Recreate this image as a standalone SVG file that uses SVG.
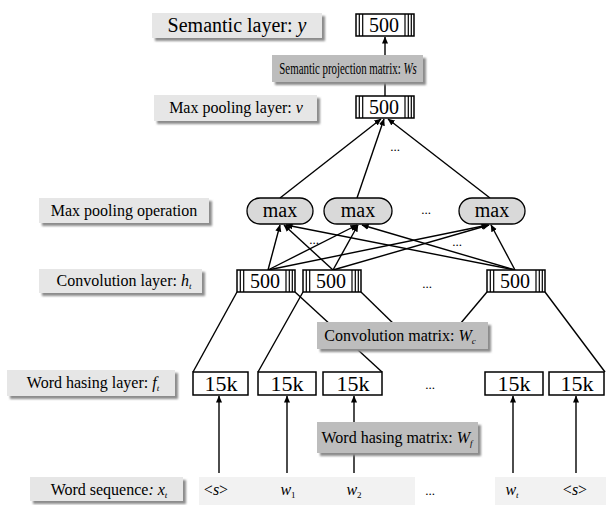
<svg xmlns="http://www.w3.org/2000/svg" xmlns:xlink="http://www.w3.org/1999/xlink" width="606" height="505" viewBox="0 0 606 505">
  <style>
    text { font-family: "Liberation Serif", "Times New Roman", serif; fill: #000; }
    .lbl { font-size: 16px; text-anchor: middle; }
    .big { font-size: 20px; text-anchor: middle; }
    .num { font-size: 20px; text-anchor: middle; }
    .k { font-size: 22px; text-anchor: middle; }
    .dots { font-size: 13px; text-anchor: middle; }
    .it { font-style: italic; }
    .light { fill: #e6e6e6; }
    .dark { fill: #bdbdbd; }
    .shadow { fill: #8c8c8c; filter: url(#blur); }
    .edge { stroke: #000; stroke-width: 1.4; fill: none; }
    .arrow { stroke: #000; stroke-width: 1.4; fill: none; marker-end: url(#head); }
    .frame { fill: #fff; stroke: #000; stroke-width: 1.5; }
    .bar { stroke: #000; stroke-width: 1.2; }
    .pill { fill: #d9d9d9; stroke: #000; stroke-width: 1.3; }
    .strip { fill: #f2f2f2; }
  </style>
  <defs>
    <filter id="blur" x="-10%" y="-30%" width="120%" height="160%">
      <feGaussianBlur stdDeviation="1.2"/>
    </filter>
    <marker id="head" viewBox="0 0 8 8" refX="7.5" refY="4" markerWidth="7" markerHeight="7" markerUnits="userSpaceOnUse" orient="auto">
      <path d="M0,0.5 L8,4 L0,7.5 Z" fill="#000"/>
    </marker>
    <!-- 500-unit vector: framed box with two bars on the left and three on the right -->
    <g id="vec500">
      <rect class="frame" x="0" y="0" width="58" height="22"/>
      <line class="bar" x1="3.3" y1="0" x2="3.3" y2="22"/>
      <line class="bar" x1="6.7" y1="0" x2="6.7" y2="22"/>
      <line class="bar" x1="49" y1="0" x2="49" y2="22"/>
      <line class="bar" x1="52.3" y1="0" x2="52.3" y2="22"/>
      <line class="bar" x1="55.3" y1="0" x2="55.3" y2="22"/>
    </g>
  </defs>

  <rect width="606" height="505" fill="#fff"/>

  <!-- word sequence background strips -->
  <rect class="strip" x="199" y="477" width="216" height="28"/>
  <rect class="strip" x="495" y="477" width="111" height="28"/>

  <!-- connectors -->
  <g id="connectors">
    <!-- word tokens to word hashing vectors -->
    <line class="arrow" x1="219" y1="473" x2="219" y2="396"/>
    <line class="arrow" x1="287" y1="473" x2="287" y2="396"/>
    <line class="arrow" x1="354" y1="473" x2="354" y2="396"/>
    <line class="arrow" x1="513" y1="473" x2="513" y2="396"/>
    <line class="arrow" x1="576" y1="473" x2="576" y2="396"/>

    <!-- convolution windows over word hashing vectors -->
    <line class="edge" x1="237" y1="292" x2="193" y2="372"/>
    <line class="edge" x1="295" y1="292" x2="382" y2="372"/>
    <line class="edge" x1="303" y1="292" x2="258" y2="372"/>
    <line class="edge" x1="361" y1="292" x2="400" y2="330"/>
    <line class="edge" x1="487" y1="292" x2="455" y2="330"/>
    <line class="edge" x1="545" y1="292" x2="605" y2="372"/>

    <!-- convolution vectors to max operations -->
    <line class="arrow" x1="268" y1="270" x2="280" y2="225"/>
    <line class="arrow" x1="268" y1="270" x2="357" y2="225"/>
    <line class="arrow" x1="268" y1="270" x2="488" y2="225"/>
    <line class="arrow" x1="333" y1="270" x2="284" y2="225"/>
    <line class="arrow" x1="333" y1="270" x2="358" y2="225"/>
    <line class="arrow" x1="333" y1="270" x2="489" y2="225"/>
    <line class="arrow" x1="515" y1="270" x2="286" y2="225"/>
    <line class="arrow" x1="515" y1="270" x2="362" y2="225"/>
    <line class="arrow" x1="515" y1="270" x2="491" y2="225"/>

    <!-- max operations to pooled vector -->
    <line class="arrow" x1="280" y1="198" x2="381" y2="119"/>
    <line class="arrow" x1="357" y1="198" x2="384" y2="119"/>
    <line class="arrow" x1="490" y1="198" x2="388" y2="119"/>

    <!-- pooled vector to semantic vector -->
    <line class="arrow" x1="385" y1="96" x2="385" y2="37"/>
  </g>

  <!-- layer captions -->
  <g id="cap-semantic">
    <rect class="shadow" x="155" y="16" width="170" height="25"/>
    <rect class="light" x="152" y="13" width="170" height="25"/>
    <text class="big" x="237" y="32">Semantic layer: <tspan class="it">y</tspan></text>
  </g>
  <g id="cap-pool-layer">
    <rect class="shadow" x="157" y="98" width="163" height="26"/>
    <rect class="light" x="154" y="95" width="163" height="26"/>
    <text class="lbl" x="236" y="113" font-size="15.5">Max pooling layer: <tspan class="it">v</tspan></text>
  </g>
  <g id="cap-pool-op">
    <rect class="shadow" x="42" y="201" width="170" height="25"/>
    <rect class="light" x="39" y="198" width="170" height="25"/>
    <text class="lbl" x="124" y="216">Max pooling operation</text>
  </g>
  <g id="cap-conv-layer">
    <rect class="shadow" x="42" y="272" width="163" height="24"/>
    <rect class="light" x="39" y="269" width="163" height="24"/>
    <text class="lbl" x="124" y="286">Convolution layer: <tspan class="it">h</tspan><tspan class="it" font-size="9" dy="3">t</tspan></text>
  </g>
  <g id="cap-hash-layer">
    <rect class="shadow" x="10" y="373" width="168" height="26"/>
    <rect class="light" x="7" y="370" width="168" height="26"/>
    <text class="lbl" x="93" y="388">Word hasing layer: <tspan class="it">f</tspan><tspan class="it" font-size="9" dy="3">t</tspan></text>
  </g>
  <g id="cap-sequence">
    <rect class="shadow" x="33" y="480" width="153" height="24"/>
    <rect class="light" x="30" y="477" width="153" height="24"/>
    <text class="lbl" x="109" y="495" font-size="16.5">Word sequence<tspan class="it">:</tspan> <tspan class="it">x</tspan><tspan class="it" font-size="9" dy="3">t</tspan></text>
  </g>

  <!-- weight matrices -->
  <g id="mat-semantic">
    <rect class="shadow" x="275" y="58" width="151" height="27"/>
    <rect class="dark" x="272" y="55" width="151" height="27"/>
    <text class="lbl" font-size="14.5" transform="translate(348,74) scale(0.68,1)">Semantic projection matrix: <tspan class="it">Ws</tspan></text>
  </g>
  <g id="mat-conv">
    <rect class="shadow" x="320" y="325" width="171" height="27"/>
    <rect class="dark" x="317" y="322" width="171" height="27"/>
    <text class="lbl" x="400" y="341">Convolution matrix: <tspan class="it">W</tspan><tspan class="it" font-size="9" dy="3">c</tspan></text>
  </g>
  <g id="mat-hash">
    <rect class="shadow" x="320" y="425" width="161" height="31"/>
    <rect class="dark" x="317" y="422" width="161" height="31"/>
    <text class="lbl" x="397" y="443" font-size="15">Word hasing matrix: <tspan class="it">W</tspan><tspan class="it" font-size="9" dy="3">f</tspan></text>
  </g>

  <!-- vectors -->
  <g id="semantic-vec">
    <use xlink:href="#vec500" x="356" y="14"/>
    <text class="num" x="384" y="32">500</text>
  </g>
  <g id="pooled-vec">
    <use xlink:href="#vec500" x="356" y="96"/>
    <text class="num" x="384" y="114">500</text>
  </g>
  <g id="conv-vec-1">
    <use xlink:href="#vec500" x="237" y="270"/>
    <text class="num" x="265" y="288">500</text>
  </g>
  <g id="conv-vec-2">
    <use xlink:href="#vec500" x="303" y="270"/>
    <text class="num" x="331" y="288">500</text>
  </g>
  <g id="conv-vec-t">
    <use xlink:href="#vec500" x="487" y="270"/>
    <text class="num" x="515" y="288">500</text>
  </g>

  <!-- max operations -->
  <g id="max-1">
    <rect class="pill" x="247" y="198" width="66" height="26" rx="13"/>
    <text class="num" x="280" y="217">max</text>
  </g>
  <g id="max-2">
    <rect class="pill" x="324" y="198" width="68" height="26" rx="13"/>
    <text class="num" x="358" y="217">max</text>
  </g>
  <g id="max-t">
    <rect class="pill" x="459" y="198" width="66" height="26" rx="13"/>
    <text class="num" x="492" y="217">max</text>
  </g>

  <!-- word hashing vectors -->
  <g id="hash-1">
    <rect class="frame" x="193" y="372" width="55" height="23"/>
    <text class="k" x="221" y="391">15k</text>
  </g>
  <g id="hash-2">
    <rect class="frame" x="258" y="372" width="58" height="23"/>
    <text class="k" x="287" y="391">15k</text>
  </g>
  <g id="hash-3">
    <rect class="frame" x="323" y="372" width="59" height="23"/>
    <text class="k" x="353" y="391">15k</text>
  </g>
  <g id="hash-t">
    <rect class="frame" x="485" y="372" width="58" height="23"/>
    <text class="k" x="514" y="391">15k</text>
  </g>
  <g id="hash-end">
    <rect class="frame" x="549" y="372" width="55" height="23"/>
    <text class="k" x="577" y="391">15k</text>
  </g>

  <!-- word tokens -->
  <g id="words">
    <text class="lbl" x="216" y="495">&lt;<tspan class="it">s</tspan>&gt;</text>
    <text class="lbl" x="288" y="495"><tspan class="it">w</tspan><tspan font-size="9" dy="3">1</tspan></text>
    <text class="lbl" x="354" y="495"><tspan class="it">w</tspan><tspan font-size="9" dy="3">2</tspan></text>
    <text class="lbl" x="512" y="495"><tspan class="it">w</tspan><tspan class="it" font-size="9" dy="3">t</tspan></text>
    <text class="lbl" x="575" y="495">&lt;<tspan class="it">s</tspan>&gt;</text>
  </g>

  <!-- ellipses -->
  <g id="ellipses">
    <text class="dots" x="395" y="151">...</text>
    <text class="dots" x="426" y="214">...</text>
    <text class="dots" x="314" y="244">...</text>
    <text class="dots" x="457" y="246">...</text>
    <text class="dots" x="427" y="288">...</text>
    <text class="dots" x="430" y="389">...</text>
    <text class="dots" x="430" y="495">...</text>
  </g>
</svg>
